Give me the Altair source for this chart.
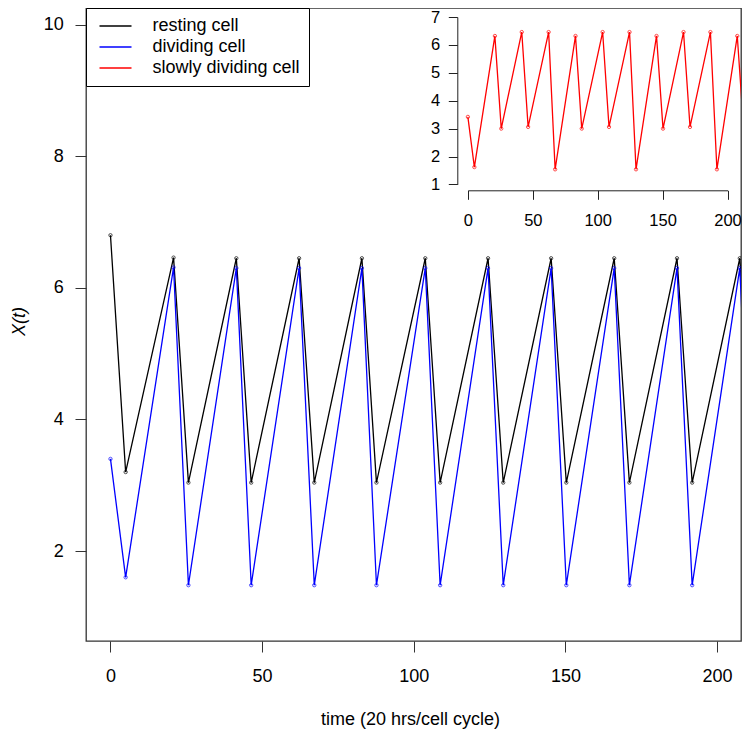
import altair as alt
import pandas as pd

# ---- data ----
times = [0, 5, 20.8, 25.7, 41.5, 46.4, 62.2, 67.2, 82.9, 87.7, 103.8, 108.7,
         124.5, 129.5, 145.3, 150.3, 166.1, 171.1, 186.8, 191.8, 207.5, 212.4]
resting = [6.80, 3.20, 6.46, 3.04, 6.45, 3.04, 6.45, 3.04, 6.45, 3.04, 6.45, 3.04,
           6.45, 3.04, 6.45, 3.04, 6.45, 3.04, 6.45, 3.04, 6.45, 3.04]
dividing = [3.40, 1.60, 6.31, 1.48, 6.30, 1.48, 6.30, 1.48, 6.30, 1.48, 6.30, 1.48,
            6.30, 1.48, 6.30, 1.48, 6.30, 1.48, 6.30, 1.48, 6.30, 1.48]
slow = [3.42, 1.62, 6.32, 3.00, 6.46, 3.06, 6.46, 1.54, 6.32, 3.00, 6.46, 3.06,
        6.46, 1.54, 6.32, 3.00, 6.46, 3.06, 6.46, 1.54, 6.32, 3.00]

series_names = ["resting cell", "dividing cell", "slowly dividing cell"]
series_colors = ["#000000", "#0000ff", "#ff0000"]

main_x_ticks = [0, 50, 100, 150, 200]
main_y_ticks = [2, 4, 6, 8, 10]
inset_x_ticks = [0, 50, 100, 150, 200]
inset_y_ticks = [1, 2, 3, 4, 5, 6, 7]

x_title = "time (20 hrs/cell cycle)"
y_title = "X(t)"

n = len(times)
main_df = pd.DataFrame({
    "t": times + times,
    "value": resting + dividing,
    "series": [series_names[0]] * n + [series_names[1]] * n,
})
inset_df = pd.DataFrame({"t": times, "value": slow, "series": [series_names[2]] * n})

FONT = "Liberation Sans"
W, H = 655, 633

color_scale = alt.Scale(domain=series_names, range=series_colors)

main_x_scale = alt.Scale(domain=[-8.07, 207.9], nice=False, zero=False)
main_y_scale = alt.Scale(domain=[0.632, 10.254], nice=False, zero=False)

main_x_axis = alt.Axis(values=main_x_ticks, title=x_title, tickSize=11, labelPadding=15.5,
                       labelFontSize=18, domain=False, grid=False, tickColor="#333",
                       labelColor="black", titleX=324, titleY=78, titleBaseline="middle",
                       titleFontSize=18, titleFontWeight="normal", titleColor="black",
                       labelFlush=False, labelOverlap=False, labelFont=FONT, titleFont=FONT)
main_y_axis = alt.Axis(values=main_y_ticks, title=y_title, tickSize=11, labelPadding=11.7,
                       labelFontSize=18, domain=False, grid=False, tickColor="#333",
                       labelColor="black", titleX=-67, titleY=313, titleAngle=270,
                       titleBaseline="middle", titleAlign="center",
                       titleFontSize=18, titleFontWeight="normal", titleFontStyle="italic",
                       titleColor="black", labelFlush=False, labelOverlap=False,
                       labelFont=FONT, titleFont=FONT)

legend = alt.Legend(orient="none", legendX=0, legendY=0, title=None,
                    symbolType="M-4,0H4", symbolSize=64, symbolStrokeWidth=1.3,
                    labelFontSize=18, labelFont=FONT, labelColor="black", padding=9,
                    rowPadding=3, fillColor="white", strokeColor="black",
                    symbolOffset=11.5, labelOffset=28, labelLimit=300)

l1 = alt.Chart(main_df).mark_line(strokeWidth=1.3, clip=True).encode(
    x=alt.X("t:Q", scale=main_x_scale, axis=main_x_axis),
    y=alt.Y("value:Q", scale=main_y_scale, axis=main_y_axis),
    color=alt.Color("series:N", scale=color_scale, legend=legend),
    detail="series:N",
)
l2 = alt.Chart(main_df).mark_point(filled=False, size=11, strokeWidth=1, clip=True).encode(
    x=alt.X("t:Q", scale=main_x_scale, axis=None),
    y=alt.Y("value:Q", scale=main_y_scale, axis=None),
    color=alt.Color("series:N", scale=color_scale, legend=None),
)

# inset: pixel ranges inside the plot area
inset_x_scale = alt.Scale(domain=[-8.07, 207.9], range=[371.4, 651.8], nice=False, zero=False)
inset_y_scale = alt.Scale(domain=[0.76, 7.24], range=[183.1, 2.3], nice=False, zero=False)

l3 = alt.Chart(inset_df).mark_line(strokeWidth=1.3, clip=True).encode(
    x=alt.X("t:Q", scale=inset_x_scale, axis=None),
    y=alt.Y("value:Q", scale=inset_y_scale, axis=None),
    color=alt.Color("series:N", scale=color_scale, legend=None),
)
l4 = alt.Chart(inset_df).mark_point(filled=False, size=11, strokeWidth=1, clip=True).encode(
    x=alt.X("t:Q", scale=inset_x_scale, axis=None),
    y=alt.Y("value:Q", scale=inset_y_scale, axis=None),
    color=alt.Color("series:N", scale=color_scale, legend=None),
)

inset_axis_x = alt.Axis(orient="bottom", offset=182.3 - H, values=inset_x_ticks, title=None,
                        tickSize=9, labelPadding=12.7, labelFontSize=16.5, domain=True,
                        domainColor="#222", tickColor="#222", labelColor="black", grid=False,
                        labelFlush=False, labelOverlap=False, labelFont=FONT)
inset_axis_y = alt.Axis(orient="left", offset=-371.3, values=inset_y_ticks, title=None,
                        tickSize=9, labelPadding=8.5, labelFontSize=16.5, domain=True,
                        domainColor="#222", tickColor="#222", labelColor="black", grid=False,
                        labelFlush=False, labelOverlap=False, labelFont=FONT)

l5 = alt.Chart(inset_df).mark_point(opacity=0).encode(
    x=alt.X("t:Q", scale=alt.Scale(domain=[0, 200], range=[381.9, 641.5], nice=False, zero=False),
            axis=inset_axis_x),
    y=alt.Y("value:Q", scale=alt.Scale(domain=[1, 7], range=[176.4, 9.0], nice=False, zero=False),
            axis=inset_axis_y),
)

chart = alt.layer(l1, l2, l3, l4, l5).resolve_scale(
    x="independent", y="independent"
).resolve_axis(
    x="independent", y="independent"
).properties(
    width=W, height=H,
    autosize=alt.AutoSizeParams(type="none"),
    padding={"left": 78, "top": 0, "right": 1, "bottom": 88},
).configure_view(stroke="#333", strokeWidth=1.3)

chart.save("out.html", embed_options={"renderer": "svg", "actions": False})
